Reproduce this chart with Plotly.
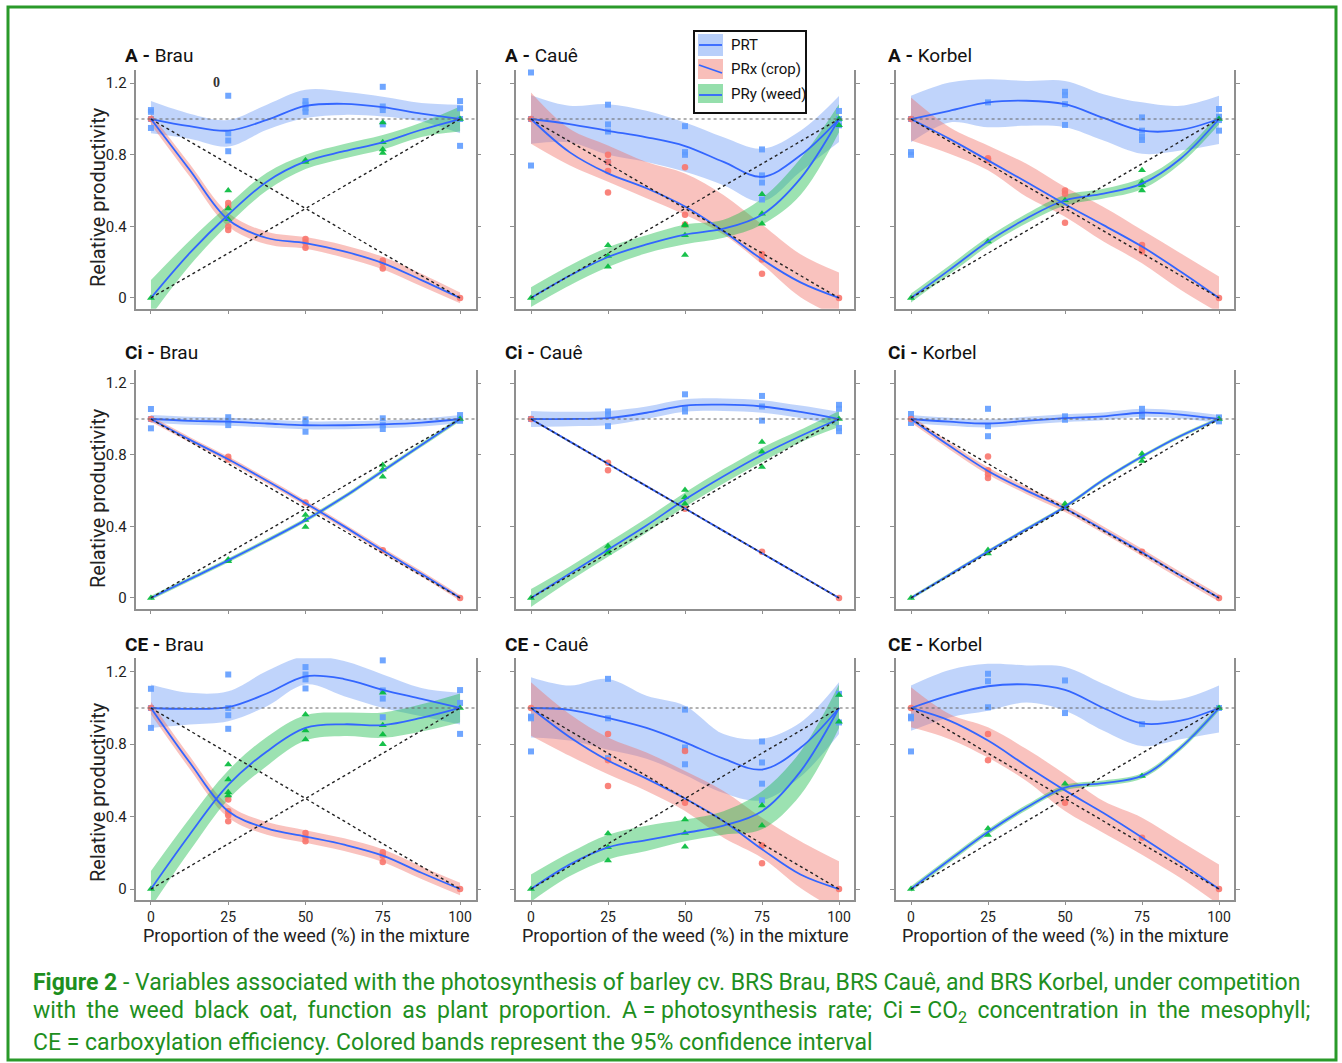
import plotly.graph_objects as go

W, H = 1342, 1063

# ---------------- data ----------------
CURVE_X = [0, 12.5, 25, 37.5, 50, 62.5, 75, 87.5, 100]
LEVELS = [0, 25, 50, 75, 100]
REF_X = [0, 100]
REF_DOWN = [1, 0]
REF_UP = [0, 1]
Y_TICKS = [0, 0.4, 0.8, 1.2]
Y_TICK_TEXT = ["0", "0.4", "0.8", "1.2"]
X_TICKS = [0, 25, 50, 75, 100]
X_TICK_TEXT = ["0", "25", "50", "75", "100"]
VARIABLES = ["A", "Ci", "CE"]
CULTIVARS = ["Brau", "Cauê", "Korbel"]
SERIES = ["PRT", "PRx (crop)", "PRy (weed)"]

# A - Brau
A_BRAU_PRT_PTS = [[1.05, 1.04, 0.95, 1.0], [1.13, 0.92, 0.88, 0.82], [1.10, 1.08, 1.06, 1.04], [1.18, 1.07, 1.05, 0.97], [1.10, 1.06, 0.85, 1.0]]
A_BRAU_PRT_FIT = [1.0, 0.96, 0.935, 0.995, 1.073, 1.085, 1.066, 1.03, 1.0]
A_BRAU_PRT_HI = [1.10, 1.03, 0.995, 1.08, 1.163, 1.153, 1.125, 1.09, 1.08]
A_BRAU_PRT_LO = [0.92, 0.89, 0.846, 0.94, 1.005, 1.023, 1.014, 0.986, 0.92]
A_BRAU_PRX_PTS = [[1.0], [0.53, 0.51, 0.40, 0.38], [0.33, 0.31, 0.28], [0.21, 0.195, 0.165], [0.0]]
A_BRAU_PRX_FIT = [1.0, 0.716, 0.437, 0.335, 0.307, 0.26, 0.195, 0.10, 0.0]
A_BRAU_PRX_HI = [1.03, 0.75, 0.475, 0.37, 0.34, 0.295, 0.23, 0.135, 0.03]
A_BRAU_PRX_LO = [0.97, 0.68, 0.40, 0.30, 0.275, 0.225, 0.16, 0.065, -0.03]
A_BRAU_PRY_PTS = [[0.0], [0.60, 0.50, 0.44], [0.77, 0.76], [0.98, 0.87, 0.83, 0.81], [1.0]]
A_BRAU_PRY_FIT = [0.0, 0.25, 0.465, 0.65, 0.763, 0.82, 0.87, 0.94, 1.0]
A_BRAU_PRY_HI = [0.10, 0.32, 0.52, 0.70, 0.80, 0.86, 0.91, 0.98, 1.07]
A_BRAU_PRY_LO = [-0.10, 0.18, 0.41, 0.60, 0.72, 0.78, 0.83, 0.90, 0.93]

# A - Cauê
A_CAUE_PRT_PTS = [[1.26, 1.0, 0.74], [1.08, 0.97, 0.93, 0.76], [0.96, 0.815, 0.80], [0.83, 0.685, 0.645, 0.55], [1.045, 1.0, 0.965]]
A_CAUE_PRT_FIT = [1.0, 0.972, 0.934, 0.898, 0.849, 0.76, 0.677, 0.797, 1.0]
A_CAUE_PRT_HI = [1.133, 1.074, 1.083, 1.046, 0.98, 0.898, 0.834, 0.935, 1.129]
A_CAUE_PRT_LO = [0.862, 0.87, 0.80, 0.76, 0.705, 0.63, 0.539, 0.705, 0.871]
A_CAUE_PRX_PTS = [[1.0], [0.80, 0.76, 0.71, 0.59], [0.73, 0.465, 0.41], [0.245, 0.215, 0.135], [0.0]]
A_CAUE_PRX_FIT = [1.0, 0.815, 0.696, 0.613, 0.511, 0.373, 0.216, 0.087, 0.0]
A_CAUE_PRX_HI = [1.148, 0.945, 0.852, 0.76, 0.696, 0.576, 0.41, 0.244, 0.142]
A_CAUE_PRX_LO = [0.862, 0.742, 0.65, 0.557, 0.465, 0.354, 0.188, 0.004, -0.107]
A_CAUE_PRY_PTS = [[0.0], [0.295, 0.235, 0.175], [0.41, 0.405, 0.35, 0.24], [0.58, 0.47, 0.415], [0.965, 1.0]]
A_CAUE_PRY_FIT = [0.0, 0.124, 0.229, 0.299, 0.354, 0.387, 0.465, 0.668, 1.0]
A_CAUE_PRY_HI = [0.06, 0.18, 0.284, 0.35, 0.41, 0.437, 0.557, 0.779, 1.083]
A_CAUE_PRY_LO = [-0.05, 0.07, 0.173, 0.25, 0.30, 0.336, 0.41, 0.576, 0.926]

# A - Korbel
A_KORBEL_PRT_PTS = [[1.0, 0.815, 0.80], [1.093], [1.152, 1.133, 1.083, 0.967], [1.009, 0.935, 0.90, 0.883], [1.056, 1.013, 0.994, 0.935]]
A_KORBEL_PRT_FIT = [1.0, 1.046, 1.093, 1.102, 1.083, 1.006, 0.935, 0.939, 1.0]
A_KORBEL_PRT_HI = [1.13, 1.204, 1.222, 1.213, 1.213, 1.139, 1.093, 1.074, 1.13]
A_KORBEL_PRT_LO = [0.87, 0.981, 0.954, 0.963, 0.954, 0.88, 0.806, 0.824, 0.861]
A_KORBEL_PRX_PTS = [[1.0], [0.781, 0.769], [0.60, 0.583, 0.42], [0.296, 0.278, 0.26], [0.0]]
A_KORBEL_PRX_FIT = [1.0, 0.889, 0.769, 0.648, 0.524, 0.407, 0.287, 0.148, 0.0]
A_KORBEL_PRX_HI = [1.12, 0.954, 0.852, 0.75, 0.62, 0.509, 0.38, 0.25, 0.12]
A_KORBEL_PRX_LO = [0.88, 0.806, 0.713, 0.565, 0.454, 0.315, 0.194, 0.046, -0.083]
A_KORBEL_PRY_PTS = [[0.0], [0.315], [0.546], [0.713, 0.648, 0.63, 0.60], [1.0]]
A_KORBEL_PRY_FIT = [0.0, 0.157, 0.315, 0.444, 0.546, 0.583, 0.639, 0.778, 1.0]
A_KORBEL_PRY_HI = [0.025, 0.182, 0.34, 0.47, 0.575, 0.61, 0.67, 0.805, 1.03]
A_KORBEL_PRY_LO = [-0.025, 0.132, 0.29, 0.418, 0.517, 0.556, 0.608, 0.75, 0.97]

# Ci - Brau
CI_BRAU_PRT_PTS = [[1.056, 1.0, 0.948], [1.01, 0.99, 0.966], [0.998, 0.979, 0.929], [1.004, 0.966, 0.944], [1.022, 1.0, 0.99]]
CI_BRAU_PRT_FIT = [1.0, 0.99, 0.985, 0.975, 0.965, 0.965, 0.97, 0.98, 1.0]
CI_BRAU_PRT_HI = [1.022, 1.012, 1.007, 0.997, 0.987, 0.987, 0.992, 1.002, 1.022]
CI_BRAU_PRT_LO = [0.978, 0.968, 0.963, 0.953, 0.943, 0.943, 0.948, 0.958, 0.978]
CI_BRAU_PRX_PTS = [[1.0], [0.789, 0.774], [0.534], [0.267], [0.0]]
CI_BRAU_PRX_FIT = [1.0, 0.885, 0.775, 0.655, 0.53, 0.40, 0.265, 0.135, 0.0]
CI_BRAU_PRX_HI = [1.015, 0.90, 0.79, 0.67, 0.545, 0.415, 0.28, 0.15, 0.015]
CI_BRAU_PRX_LO = [0.985, 0.87, 0.76, 0.64, 0.515, 0.385, 0.25, 0.12, -0.015]
CI_BRAU_PRY_PTS = [[0.0], [0.215, 0.205], [0.463, 0.435, 0.397], [0.743, 0.718, 0.677], [1.0]]
CI_BRAU_PRY_FIT = [0.0, 0.105, 0.21, 0.32, 0.435, 0.565, 0.71, 0.855, 1.0]
CI_BRAU_PRY_HI = [0.012, 0.117, 0.222, 0.332, 0.447, 0.577, 0.722, 0.867, 1.012]
CI_BRAU_PRY_LO = [-0.012, 0.093, 0.198, 0.308, 0.423, 0.553, 0.698, 0.843, 0.988]

# Ci - Cauê
CI_CAUE_PRT_PTS = [[1.0], [1.042, 1.024, 0.96], [1.138, 1.061, 1.042], [1.129, 1.07, 0.991], [1.079, 1.057, 0.95, 0.932]]
CI_CAUE_PRT_FIT = [1.0, 1.0, 1.005, 1.035, 1.075, 1.08, 1.07, 1.04, 1.0]
CI_CAUE_PRT_HI = [1.045, 1.04, 1.045, 1.07, 1.11, 1.115, 1.105, 1.075, 1.04]
CI_CAUE_PRT_LO = [0.955, 0.96, 0.965, 1.0, 1.04, 1.045, 1.035, 1.005, 0.96]
CI_CAUE_PRX_PTS = [[1.0], [0.756, 0.714], [0.498], [0.258], [0.0]]
CI_CAUE_PRX_FIT = [1.0, 0.875, 0.75, 0.625, 0.50, 0.375, 0.25, 0.125, 0.0]
CI_CAUE_PRX_HI = [1.006, 0.881, 0.756, 0.631, 0.506, 0.381, 0.256, 0.131, 0.006]
CI_CAUE_PRX_LO = [0.994, 0.869, 0.744, 0.619, 0.494, 0.369, 0.244, 0.119, -0.006]
CI_CAUE_PRY_PTS = [[0.0], [0.29, 0.268, 0.253], [0.603, 0.563, 0.526], [0.871, 0.817, 0.732], [1.0]]
CI_CAUE_PRY_FIT = [0.0, 0.135, 0.27, 0.405, 0.55, 0.68, 0.80, 0.905, 1.0]
CI_CAUE_PRY_HI = [0.05, 0.175, 0.31, 0.445, 0.59, 0.72, 0.84, 0.94, 1.045]
CI_CAUE_PRY_LO = [-0.05, 0.095, 0.23, 0.365, 0.51, 0.64, 0.76, 0.87, 0.955]

# Ci - Korbel
CI_KORBEL_PRT_PTS = [[1.028, 1.0, 0.978], [1.057, 0.96, 0.904], [1.015, 0.996], [1.057, 1.033, 1.015], [1.009, 0.987]]
CI_KORBEL_PRT_FIT = [1.0, 0.985, 0.975, 0.99, 1.005, 1.015, 1.035, 1.025, 1.0]
CI_KORBEL_PRT_HI = [1.022, 1.007, 0.997, 1.012, 1.027, 1.037, 1.057, 1.047, 1.022]
CI_KORBEL_PRT_LO = [0.978, 0.963, 0.953, 0.968, 0.983, 0.993, 1.013, 1.003, 0.978]
CI_KORBEL_PRX_PTS = [[1.0], [0.79, 0.714, 0.692, 0.67], [0.507], [0.258], [0.0]]
CI_KORBEL_PRX_FIT = [1.0, 0.85, 0.71, 0.60, 0.50, 0.38, 0.255, 0.125, 0.0]
CI_KORBEL_PRX_HI = [1.02, 0.87, 0.73, 0.62, 0.52, 0.40, 0.275, 0.145, 0.02]
CI_KORBEL_PRX_LO = [0.98, 0.83, 0.69, 0.58, 0.48, 0.36, 0.235, 0.105, -0.02]
CI_KORBEL_PRY_PTS = [[0.0], [0.268, 0.249], [0.526, 0.507], [0.806, 0.788, 0.766], [1.0]]
CI_KORBEL_PRY_FIT = [0.0, 0.13, 0.26, 0.385, 0.51, 0.66, 0.79, 0.905, 1.0]
CI_KORBEL_PRY_HI = [0.01, 0.14, 0.27, 0.395, 0.52, 0.67, 0.80, 0.915, 1.01]
CI_KORBEL_PRY_LO = [-0.01, 0.12, 0.25, 0.375, 0.50, 0.65, 0.78, 0.895, 0.99]

# CE - Brau
CE_BRAU_PRT_PTS = [[1.106, 1.0, 0.89], [1.185, 1.0, 0.96, 0.885], [1.226, 1.185, 1.158, 1.108], [1.263, 1.097, 1.052, 0.949], [1.099, 1.028, 0.857]]
CE_BRAU_PRT_FIT = [1.0, 0.995, 1.005, 1.08, 1.175, 1.16, 1.10, 1.05, 1.0]
CE_BRAU_PRT_HI = [1.13, 1.084, 1.093, 1.204, 1.287, 1.259, 1.185, 1.11, 1.084]
CE_BRAU_PRT_LO = [0.89, 0.909, 0.927, 1.01, 1.13, 1.065, 1.0, 0.955, 0.909]
CE_BRAU_PRX_PTS = [[1.0], [0.494, 0.43, 0.407, 0.374], [0.31, 0.286, 0.264], [0.203, 0.184, 0.149], [0.0]]
CE_BRAU_PRX_FIT = [1.0, 0.70, 0.43, 0.335, 0.29, 0.245, 0.185, 0.09, 0.0]
CE_BRAU_PRX_HI = [1.035, 0.735, 0.465, 0.37, 0.325, 0.28, 0.22, 0.125, 0.035]
CE_BRAU_PRX_LO = [0.965, 0.665, 0.395, 0.30, 0.255, 0.21, 0.15, 0.055, -0.035]
CE_BRAU_PRY_PTS = [[0.0], [0.688, 0.605, 0.535, 0.516], [0.964, 0.876, 0.826], [1.084, 0.905, 0.853, 0.80], [1.0]]
CE_BRAU_PRY_FIT = [0.0, 0.30, 0.575, 0.76, 0.89, 0.91, 0.905, 0.945, 1.0]
CE_BRAU_PRY_HI = [0.10, 0.39, 0.655, 0.84, 0.96, 0.975, 0.975, 1.02, 1.08]
CE_BRAU_PRY_LO = [-0.10, 0.21, 0.495, 0.68, 0.82, 0.845, 0.835, 0.87, 0.92]

# CE - Cauê
CE_CAUE_PRT_PTS = [[0.952, 0.943, 0.76], [1.161, 0.943, 0.723], [0.991, 0.782, 0.767, 0.689], [0.815, 0.699, 0.582, 0.49], [1.078, 0.92]]
CE_CAUE_PRT_FIT = [1.0, 0.99, 0.945, 0.89, 0.81, 0.72, 0.66, 0.78, 1.0]
CE_CAUE_PRT_HI = [1.17, 1.124, 1.16, 1.068, 1.013, 0.856, 0.83, 0.92, 1.142]
CE_CAUE_PRT_LO = [0.837, 0.82, 0.77, 0.72, 0.63, 0.53, 0.49, 0.62, 0.856]
CE_CAUE_PRX_PTS = [[1.0], [0.856, 0.712, 0.569], [0.763, 0.477], [0.24, 0.142], [0.0]]
CE_CAUE_PRX_FIT = [1.0, 0.84, 0.71, 0.61, 0.50, 0.375, 0.22, 0.08, 0.0]
CE_CAUE_PRX_HI = [1.142, 0.967, 0.837, 0.754, 0.652, 0.542, 0.394, 0.264, 0.153]
CE_CAUE_PRX_LO = [0.847, 0.736, 0.634, 0.542, 0.431, 0.283, 0.172, 0.006, -0.124]
CE_CAUE_PRY_PTS = [[0.0], [0.307, 0.231, 0.157], [0.384, 0.31, 0.233], [0.462, 0.351], [1.072, 0.924]]
CE_CAUE_PRY_FIT = [0.0, 0.135, 0.23, 0.27, 0.31, 0.35, 0.43, 0.65, 1.0]
CE_CAUE_PRY_HI = [0.08, 0.20, 0.30, 0.35, 0.384, 0.43, 0.54, 0.76, 1.13]
CE_CAUE_PRY_LO = [-0.07, 0.07, 0.163, 0.21, 0.264, 0.30, 0.33, 0.52, 0.89]

# CE - Korbel
CE_KORBEL_PRT_PTS = [[0.952, 0.943, 0.76], [1.189, 1.148, 1.004], [1.152, 0.972], [0.911], [1.0]]
CE_KORBEL_PRT_FIT = [1.0, 1.07, 1.12, 1.13, 1.10, 1.0, 0.915, 0.93, 1.0]
CE_KORBEL_PRT_HI = [1.124, 1.21, 1.244, 1.235, 1.226, 1.133, 1.05, 1.05, 1.124]
CE_KORBEL_PRT_LO = [0.874, 0.948, 0.985, 1.03, 0.985, 0.874, 0.79, 0.828, 0.865]
CE_KORBEL_PRX_PTS = [[1.0], [0.856, 0.712], [0.477], [0.283], [0.0]]
CE_KORBEL_PRX_FIT = [1.0, 0.93, 0.82, 0.68, 0.545, 0.42, 0.285, 0.145, 0.0]
CE_KORBEL_PRX_HI = [1.115, 0.967, 0.893, 0.773, 0.634, 0.486, 0.394, 0.264, 0.135]
CE_KORBEL_PRX_LO = [0.893, 0.828, 0.726, 0.597, 0.431, 0.31, 0.19, 0.061, -0.087]
CE_KORBEL_PRY_PTS = [[0.0], [0.335, 0.298], [0.582], [0.625], [1.0]]
CE_KORBEL_PRY_FIT = [0.0, 0.16, 0.315, 0.45, 0.56, 0.585, 0.625, 0.78, 1.0]
CE_KORBEL_PRY_HI = [0.015, 0.175, 0.33, 0.465, 0.575, 0.60, 0.64, 0.795, 1.015]
CE_KORBEL_PRY_LO = [-0.015, 0.145, 0.30, 0.435, 0.545, 0.57, 0.61, 0.765, 0.985]

TS = "\u2009"  # thin space, used to justify the second caption line
CAPTION_LINES = [
    "<b>Figure 2</b> - Variables associated with the photosynthesis of barley cv. BRS Brau, BRS Cauê, and BRS Korbel, under competition",
    ("with " + TS + "the " + TS + "weed " + TS + "black " + TS + "oat, " + TS + "function " + TS + "as " + TS + "plant "
     + TS + "proportion. " + TS + "A = photosynthesis " + TS + "rate; " + TS + "Ci = CO<sub>2</sub> " + TS
     + "concentration " + TS + "in " + TS + "the " + TS + "mesophyll;"),
    "CE = carboxylation efficiency. Colored bands represent the 95% confidence interval",
]

g = globals()
PANELS = []
for v in VARIABLES:
    row = []
    for c in CULTIVARS:
        key = v.upper() + "_" + c.upper().replace("Ê", "E")
        row.append({s: (g[key + "_" + s + "_PTS"], g[key + "_" + s + "_FIT"],
                        g[key + "_" + s + "_LO"], g[key + "_" + s + "_HI"])
                    for s in ["PRT", "PRX", "PRY"]})
    PANELS.append(row)

# ---------------- styling ----------------
FONT = "Roboto"
LINE_BLUE = "#3366FF"
PT_COL = {"PRT": "#619CFF", "PRX": "#F8766D", "PRY": "#00BA38"}
PT_SYM = {"PRT": "square", "PRX": "circle", "PRY": "triangle-up"}
PT_SIZE = {"PRT": 6, "PRX": 6.5, "PRY": 7}
BAND = {"PRT": "rgba(97,148,245,0.40)", "PRX": "rgba(240,110,100,0.42)", "PRY": "rgba(20,185,70,0.42)"}
AXIS_COL = "#8f8f8f"
GREEN = "#1e8f1e"

COL_PX = [(135.5, 475.5), (515.6, 854.4), (895.6, 1234.4)]
ROW_PX = [(69.8, 308.7), (369.8, 608.7), (658.2, 899.9)]
X_RANGE = [-5, 105]
Y_RANGE = [-0.06, 1.275]


def px(xp):
    return xp / W


def py(yp):
    return 1 - yp / H


fig = go.Figure()
layout = dict(width=W, height=H, margin=dict(l=0, r=0, t=0, b=0), autosize=False,
              paper_bgcolor="white", plot_bgcolor="white", showlegend=False,
              font=dict(family=FONT, color="#222", size=14))
shapes = []
annotations = []

for r in range(3):
    for c in range(3):
        k = r * 3 + c
        sfx = "" if k == 0 else str(k + 1)
        xa, ya = "x" + sfx, "y" + sfx
        layout["xaxis" + sfx] = dict(
            domain=[px(COL_PX[c][0]), px(COL_PX[c][1])], range=X_RANGE, anchor=ya,
            showgrid=False, zeroline=False, showline=True, linecolor=AXIS_COL, linewidth=1.6,
            ticks="outside", ticklen=3, tickcolor=AXIS_COL, tickwidth=1,
            tickvals=X_TICKS, ticktext=X_TICK_TEXT, showticklabels=(r == 2),
            tickfont=dict(family=FONT, size=14, color="#222"))
        layout["yaxis" + sfx] = dict(
            domain=[py(ROW_PX[r][1]), py(ROW_PX[r][0])], range=Y_RANGE, anchor=xa,
            showgrid=False, zeroline=False, showline=True, linecolor=AXIS_COL, linewidth=1.6,
            mirror="ticks", ticks="outside", ticklen=4, tickcolor=AXIS_COL, tickwidth=1,
            tickvals=Y_TICKS, ticktext=Y_TICK_TEXT, showticklabels=(c == 0),
            tickfont=dict(family=FONT, size=15, color="#222"))
        panel = PANELS[r][c]
        # bands
        for s in ["PRT", "PRX", "PRY"]:
            pts, fit, lo, hi = panel[s]
            fig.add_trace(go.Scatter(x=CURVE_X, y=hi, mode="lines", xaxis=xa, yaxis=ya,
                                     line=dict(width=0, shape="spline"), hoverinfo="skip"))
            fig.add_trace(go.Scatter(x=CURVE_X, y=lo, mode="lines", xaxis=xa, yaxis=ya,
                                     line=dict(width=0, shape="spline"), fill="tonexty",
                                     fillcolor=BAND[s], hoverinfo="skip"))
        # points
        for s in ["PRT", "PRX", "PRY"]:
            pts, fit, lo, hi = panel[s]
            xs, ys = [], []
            for lev, vals in zip(LEVELS, pts):
                for val in vals:
                    xs.append(lev)
                    ys.append(val)
            fig.add_trace(go.Scatter(x=xs, y=ys, mode="markers", xaxis=xa, yaxis=ya,
                                     cliponaxis=False,
                                     marker=dict(symbol=PT_SYM[s], size=PT_SIZE[s], color=PT_COL[s],
                                                 opacity=0.9, line=dict(width=0))))
        # fitted lines
        for s in ["PRT", "PRX", "PRY"]:
            pts, fit, lo, hi = panel[s]
            fig.add_trace(go.Scatter(x=CURVE_X, y=fit, mode="lines", xaxis=xa, yaxis=ya,
                                     line=dict(color=LINE_BLUE, width=1.8, shape="spline")))
        # reference lines
        for ref in (REF_DOWN, REF_UP):
            fig.add_trace(go.Scatter(x=REF_X, y=ref, mode="lines", xaxis=xa, yaxis=ya,
                                     line=dict(color="#222", width=1.4, dash="dot")))
        shapes.append(dict(type="line", xref=xa + " domain", yref=ya, x0=0, x1=1, y0=1, y1=1,
                           line=dict(color="#666", width=1.2, dash="dot"), layer="above"))
        # panel title
        tx = [123, 503, 886][c]
        ty = [55, 352, 644][r]
        annotations.append(dict(xref="paper", yref="paper", x=px(tx), y=py(ty), xanchor="left",
                                yanchor="middle", showarrow=False,
                                text="<b>%s -</b> %s" % (VARIABLES[r], CULTIVARS[c]),
                                font=dict(family=FONT, size=19, color="#111")))
        if c == 0:
            annotations.append(dict(xref="paper", yref="paper", x=px(98), y=py([197, 498, 792][r]),
                                    xanchor="center", yanchor="middle", showarrow=False, textangle=-90,
                                    text="Relative productivity",
                                    font=dict(family=FONT, size=20, color="#222")))
        if r == 2:
            annotations.append(dict(xref="paper", yref="paper", x=px((COL_PX[c][0] + COL_PX[c][1]) / 2),
                                    y=py(936), xanchor="center", yanchor="middle", showarrow=False,
                                    text="Proportion of the weed (%) in the mixture",
                                    font=dict(family=FONT, size=18, color="#222")))

# stray mark in the original image
annotations.append(dict(xref="paper", yref="paper", x=px(211), y=py(73), showarrow=False,
                        text="<b>0</b>", font=dict(family="Liberation Serif", size=14, color="#333")))

# legend (manual)
shapes.append(dict(type="rect", xref="paper", yref="paper", x0=px(694), x1=px(806), y0=py(113), y1=py(31),
                   line=dict(color="#111", width=2), fillcolor="white", layer="above"))
LEG_ROWS = [(34, 56), (59, 79), (84, 103)]
LEG_BAND = ["rgba(97,148,245,0.45)", "rgba(240,110,100,0.45)", "rgba(20,185,70,0.45)"]
LEG_LINE = [((699, 45), (722, 45)), ((699, 65), (722, 73)), ((699, 95), (722, 95))]
for i, name in enumerate(SERIES):
    y0, y1 = LEG_ROWS[i]
    shapes.append(dict(type="rect", xref="paper", yref="paper", x0=px(698), x1=px(723), y0=py(y1), y1=py(y0),
                       line=dict(width=0), fillcolor=LEG_BAND[i], layer="above"))
    (ax, ay), (bx, by) = LEG_LINE[i]
    shapes.append(dict(type="line", xref="paper", yref="paper", x0=px(ax), x1=px(bx), y0=py(ay), y1=py(by),
                       line=dict(color=LINE_BLUE, width=1.8), layer="above"))
    annotations.append(dict(xref="paper", yref="paper", x=px(729), y=py((y0 + y1) / 2), xanchor="left",
                            yanchor="middle", showarrow=False, text=name,
                            font=dict(family=FONT, size=15, color="#111")))

# caption
for i, line in enumerate(CAPTION_LINES):
    annotations.append(dict(xref="paper", yref="paper", x=px(31), y=py(982 + 30 * i), xanchor="left",
                            yanchor="middle", showarrow=False, text=line,
                            font=dict(family=FONT, size=23, color=GREEN)))

# green frame
shapes.append(dict(type="rect", xref="paper", yref="paper", x0=px(8), x1=px(1336), y0=py(1060), y1=py(7),
                   line=dict(color="#2a9a2a", width=3), fillcolor="rgba(0,0,0,0)", layer="above"))

layout["shapes"] = shapes
layout["annotations"] = annotations
fig.update_layout(**layout)
fig.write_html("out.html")
